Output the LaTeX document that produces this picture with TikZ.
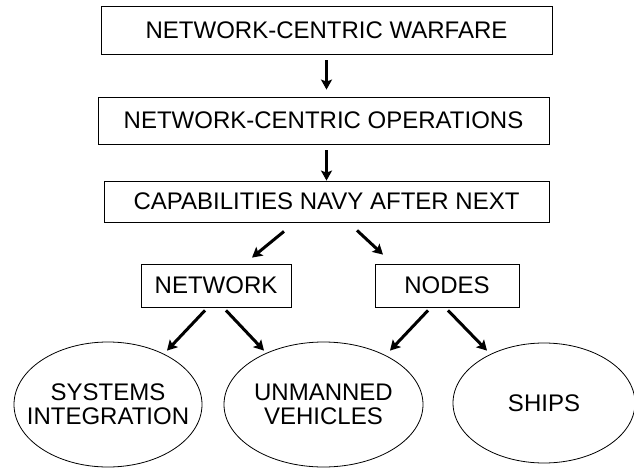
\documentclass[tikz,border=0pt]{standalone}
\usepackage{fontspec}
\setmainfont{Liberation Sans}
\usetikzlibrary{shapes.geometric,arrows.meta,calc}

\begin{document}
\begin{tikzpicture}[x=1pt,y=-1pt,
  box/.style={draw,line width=0.8pt,inner sep=0pt,font=\fontsize{24}{24}\selectfont},
  oval/.style={draw,ellipse,line width=0.8pt,inner sep=0pt},
  ovaltext/.style={align=center,font=\fontsize{24}{24}\selectfont},
  arr/.style={line width=3pt,-{Stealth[length=10pt,width=11pt,inset=2pt]}}]
\useasboundingbox (0,0) rectangle (634,468);

% the chain of boxes at the top
\node[box,minimum width=451pt,minimum height=48pt] (war) at (326.5,30) {NETWORK-CENTRIC WARFARE};
\node[box,minimum width=451pt,minimum height=47pt] (ops) at (323.5,120.5) {NETWORK-CENTRIC OPERATIONS};
\node[box,minimum width=445pt,minimum height=41pt] (cap) at (326.5,201.5) {CAPABILITIES NAVY AFTER NEXT};

% the two branches
\node[box,minimum width=150pt,minimum height=43pt] (net) at (216,285.5) {NETWORK};
\node[box,minimum width=144pt,minimum height=43pt] (nds) at (447,285.5) {NODES};

% the ovals at the bottom
\node[oval,minimum width=188pt,minimum height=125pt,
  label={[ovaltext]center:SYSTEMS\\INTEGRATION}] (sys) at (108,404.5) {};
\node[oval,minimum width=199pt,minimum height=125pt,
  label={[ovaltext]center:UNMANNED\\VEHICLES}] (unm) at (323.5,404.5) {};
\node[oval,minimum width=182pt,minimum height=120pt,
  label={[ovaltext]center:SHIPS}] (shp) at (544,403) {};

% arrows
\draw[arr,shorten <=6pt,shorten >=7pt] (war.south) -- (war.south |- ops.north);
\draw[arr,shorten <=6pt] (cap.north |- ops.south) -- (cap.north);

\draw[arr] ($(cap.south)+(-42.5,9)$) -- ($(net.north)+(36,-6)$);
\draw[arr] ($(cap.south)+(30.5,8)$) -- ($(nds.north)+(-64,-9)$);

\draw[arr] ($(net.south)+(-11,3)$) -- ($(sys.north)+(59,9)$);
\draw[arr] ($(net.south)+(10,3)$) -- ($(unm.north)+(-59.5,9)$);
\draw[arr] ($(nds.south)+(-19,3)$) -- ($(unm.north)+(66.5,9)$);
\draw[arr] ($(nds.south)+(1,3)$) -- ($(shp.north)+(-57,8)$);
\end{tikzpicture}
\end{document}
